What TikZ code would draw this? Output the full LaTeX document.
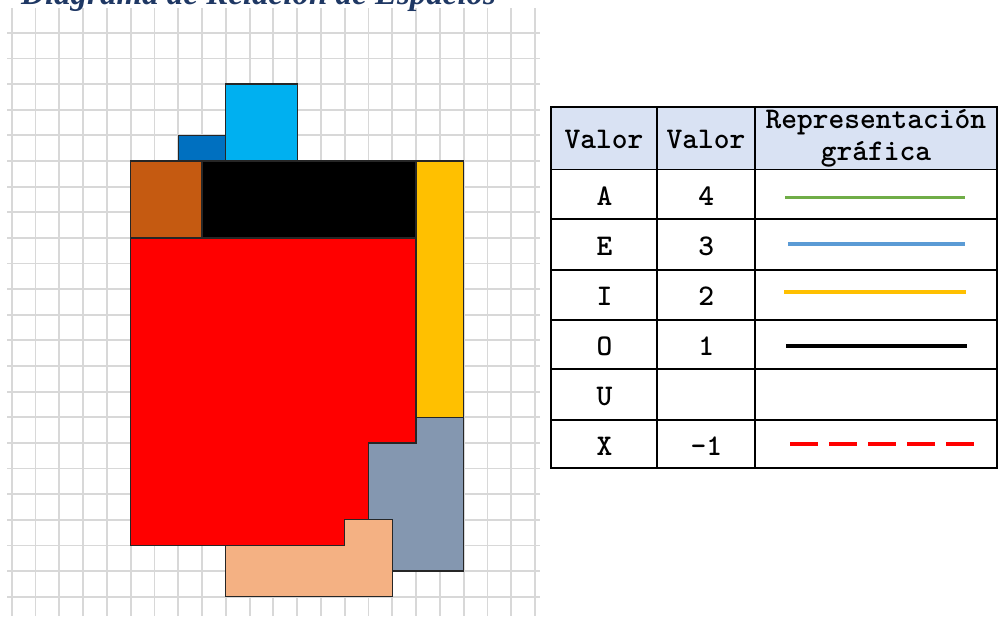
\documentclass[tikz,border=0pt]{standalone}
\usepackage{fontspec}
\setmainfont{Liberation Serif}
\definecolor{gridc}{RGB}{216,216,216}
\definecolor{lblue}{RGB}{0,176,240}
\definecolor{dblue}{RGB}{0,112,192}
\definecolor{rbrown}{RGB}{197,90,17}
\definecolor{ryellow}{RGB}{255,192,0}
\definecolor{rred}{RGB}{255,0,0}
\definecolor{rgray}{RGB}{132,151,176}
\definecolor{rpeach}{RGB}{244,177,131}
\definecolor{hdr}{RGB}{217,226,243}
\definecolor{lgreen}{RGB}{112,173,71}
\definecolor{lbluel}{RGB}{91,155,213}
\definecolor{navy}{RGB}{31,56,100}
\tikzset{
  gridline/.style={draw=gridc, line width=1.8pt},
  room/.style={draw=black!85, line width=1.3pt, line join=miter},
  tabline/.style={draw=black, line width=1.8pt},
  celltxt/.style={inner sep=0pt, anchor=center, font=\ttfamily\bfseries\fontsize{30}{32}\selectfont, align=center},
  sample/.style={line width=3.2pt},
  titletxt/.style={inner sep=0pt, text=navy, font=\rmfamily\bfseries\itshape\fontsize{33}{36}\selectfont}
}
\begin{document}
\begin{tikzpicture}[x=1pt,y=-1pt]
\useasboundingbox (0,0) rectangle (1001,616);
\fill[white] (0,0) rectangle (1001,616);
% grid
\foreach \i in {0,...,22} \draw[gridline] ({11.7+23.79*\i},8) -- ({11.7+23.79*\i},616);
\foreach \j in {1,...,23} \draw[gridline] (7,{7.2+25.63*\j}) -- (540,{7.2+25.63*\j});
% title (clipped at top, as in the reference)
\node[titletxt, anchor=base west] (title) at (21,4) {Diagrama de Relación de Espacios};
% spaces
\begin{scope}[shift={(11.7,7.2)}, x=23.79pt, y=-25.63pt]
  \filldraw[room, fill=lblue] (9,3) rectangle (12,6);
  \filldraw[room, fill=dblue] (7,5) rectangle (9,6);
  \filldraw[room, fill=rbrown] (5,6) rectangle (8,9);
  \filldraw[room, fill=black] (8,6) rectangle (17,9);
  \filldraw[room, fill=ryellow] (17,6) rectangle (19,16);
  \filldraw[room, fill=rred] (5,9) -- (17,9) -- (17,17) -- (15,17) -- (15,20) -- (14,20) -- (14,21) -- (5,21) -- cycle;
  \filldraw[room, fill=rgray] (17,16) -- (19,16) -- (19,22) -- (16,22) -- (16,20) -- (15,20) -- (15,17) -- (17,17) -- cycle;
  \filldraw[room, fill=rpeach] (14,20) -- (16,20) -- (16,23) -- (9,23) -- (9,21) -- (14,21) -- cycle;
\end{scope}
% table
\fill[hdr] (551,107.3) rectangle (996.7,169.4);
\foreach \y in {107.3,169.4,218.8,270,320,369.3,419.7,468.3} \draw[tabline] (550.1,\y) -- (997.6,\y);
\foreach \x in {551,656.7,755,996.7} \draw[tabline] (\x,107.3) -- (\x,468.3);
% header
\node[celltxt] (h1) at (603.9,139) {Valor};
\node[celltxt] (h2) at (705.9,139) {Valor};
\node[celltxt] (h3) at (875.9,138) {Representación\\gráfica};
% rows
\node[celltxt] (ra) at (604.5,196) {A};
\node[celltxt] (va) at (706.3,196) {4};
\node[celltxt] (re) at (604.5,246) {E};
\node[celltxt] (ve) at (706.3,246) {3};
\node[celltxt] (ri) at (604.5,296) {I};
\node[celltxt] (vi) at (706.3,296) {2};
\node[celltxt] (ro) at (604.5,346) {O};
\node[celltxt] (vo) at (706.3,346) {1};
\node[celltxt] (ru) at (604.5,396) {U};
\node[celltxt] (rx) at (604.5,446) {X};
\node[celltxt] (vx) at (706.3,446) {-1};
% samples
\draw[sample, lgreen] (785,197.3) -- (965,197.3);
\draw[sample, lbluel] (788,244) -- (965,244);
\draw[sample, ryellow] (784,292) -- (966,292);
\draw[sample, black, line width=3.6pt] (786,346) -- (967,346);
\draw[sample, rred, line width=3.8pt, dash pattern=on 28pt off 11pt] (790,444) -- (976,444);
\end{tikzpicture}
\end{document}
